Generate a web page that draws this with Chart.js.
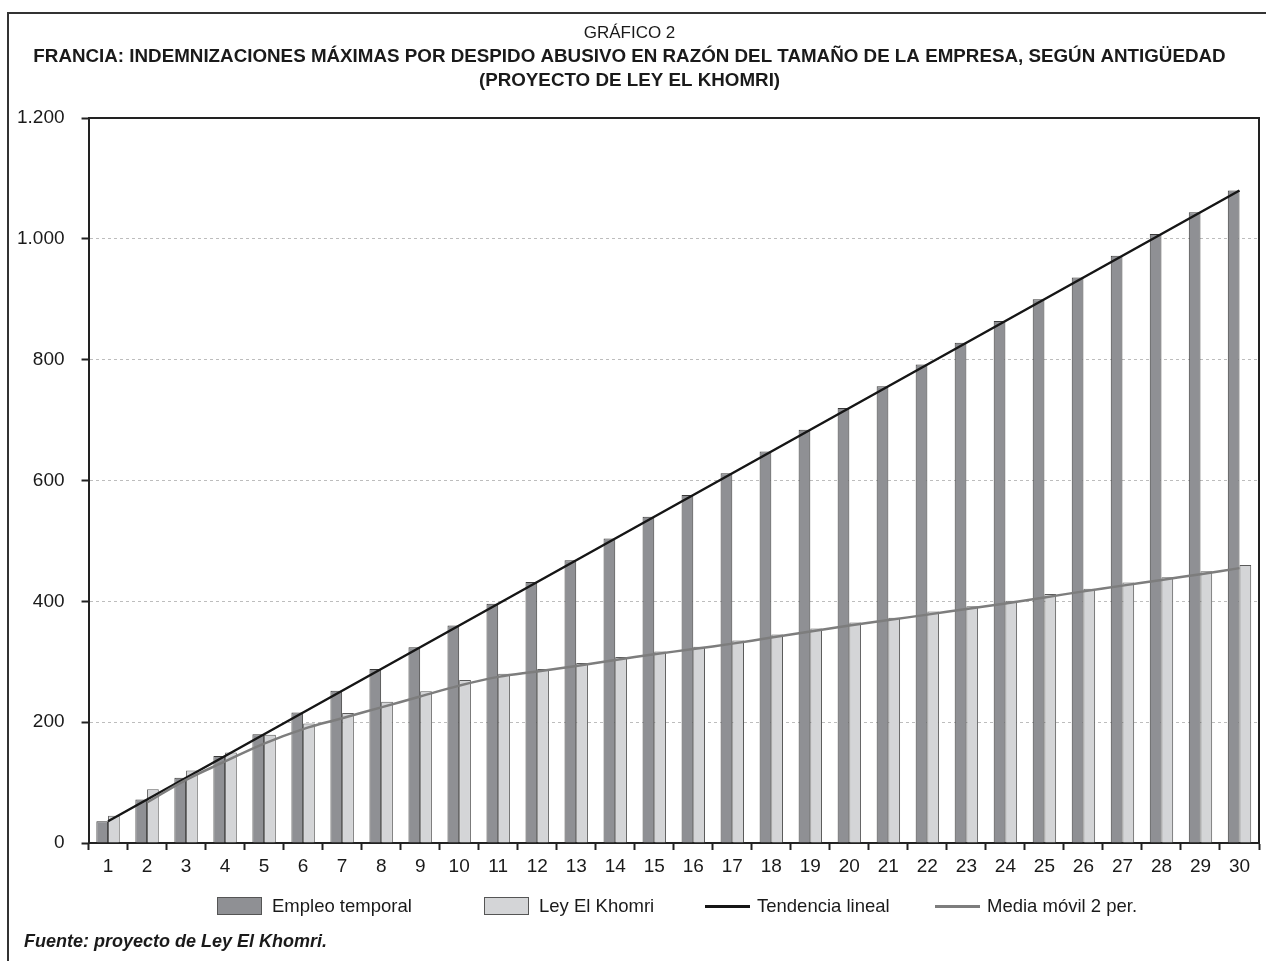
<!DOCTYPE html>
<html lang="es">
<head>
<meta charset="utf-8">
<title>Gráfico 2 - Francia: indemnizaciones máximas por despido abusivo</title>
<script src="https://cdn.jsdelivr.net/npm/chart.js@4.4.1/dist/chart.umd.min.js"></script>
<style>
  html, body { margin: 0; padding: 0; background: #fff; }
  body {
    position: relative;
    width: 1266px;
    height: 961px;
    overflow: hidden;
    font-family: 'Liberation Sans', Arial, Helvetica, sans-serif;
    color: #1a1a1a;
  }
  #chart { position: absolute; left: 0; top: 0; }
  #frame {
    position: absolute;
    left: 7px;
    top: 12px;
    width: 1270px;
    height: 960px;
    border-top: 2px solid #333;
    border-left: 2px solid #333;
    pointer-events: none;
  }
  #legend { position: absolute; left: 0; top: 897px; width: 100%; height: 18px; }
  .legend-item {
    position: absolute;
    top: 0;
    height: 18px;
    display: flex;
    align-items: center;
    font-size: 18.5px;
    white-space: nowrap;
  }
  .legend-box { width: 43px; height: 16px; border: 1px solid #555; margin-right: 10px; }
  .legend-line { width: 45px; height: 0; border-top: 3px solid; margin-right: 7px; }
  #source {
    position: absolute;
    left: 24px;
    top: 931px;
    font-size: 18px;
    font-weight: bold;
    font-style: italic;
  }
</style>
</head>
<body>
<canvas id="chart" width="1266" height="961"></canvas>
<div id="frame"></div>
<div id="legend"></div>
<div id="source">Fuente: proyecto de Ley El Khomri.</div>

<script>
const TITLE = 'GRÁFICO 2';
const SUBTITLE = [
  'FRANCIA: INDEMNIZACIONES MÁXIMAS POR DESPIDO ABUSIVO EN RAZÓN DEL TAMAÑO DE LA EMPRESA, SEGÚN ANTIGÜEDAD',
  '(PROYECTO DE LEY EL KHOMRI)',
];

// antigüedad (años)
const categories = ['1', '2', '3', '4', '5', '6', '7', '8', '9', '10',
  '11', '12', '13', '14', '15', '16', '17', '18', '19', '20',
  '21', '22', '23', '24', '25', '26', '27', '28', '29', '30'];

const empleoTemporal = [36, 72, 108, 144, 180, 216, 252, 288, 324, 360,
  396, 432, 468, 504, 540, 576, 612, 648, 684, 720,
  756, 792, 828, 864, 900, 936, 972, 1008, 1044, 1080];

const leyElKhomri = [45, 89, 120, 150, 179, 198, 215, 234, 251, 270,
  280, 288, 298, 308, 317, 325, 335, 345, 355, 365,
  373, 383, 392, 401, 412, 421, 431, 440, 450, 460];

const tendenciaLineal = [36, 72, 108, 144, 180, 216, 252, 288, 324, 360,
  396, 432, 468, 504, 540, 576, 612, 648, 684, 720,
  756, 792, 828, 864, 900, 936, 972, 1008, 1044, 1080];

// media móvil de 2 periodos sobre Ley El Khomri (no hay valor para el año 1)
const mediaMovil = [null, 67, 104.5, 135, 164.5, 188.5, 206.5, 224.5, 242.5, 260.5,
  275, 284, 293, 303, 312.5, 321, 330, 340, 350, 360,
  369, 378, 387.5, 396.5, 406.5, 416.5, 426, 435.5, 445, 455];

const yTicks = [0, 200, 400, 600, 800, 1000, 1200];

const seriesLabels = ['Empleo temporal', 'Ley El Khomri', 'Tendencia lineal', 'Media móvil 2 per.'];

const DARK_BAR = '#8f9094';
const LIGHT_BAR = '#d4d5d7';
const TREND_COLOR = '#161616';
const MOVING_COLOR = '#7d7d7d';
const AXIS_COLOR = '#222';
const TEXT_COLOR = '#1a1a1a';

const legendLefts = [217, 484, 705, 935];

const chartCanvas = document.querySelector('#chart');
const legendEl = document.querySelector('#legend');

Chart.defaults.font.family = "'Liberation Sans', Arial, Helvetica, sans-serif";
Chart.defaults.color = TEXT_COLOR;

function formatThousands(value) {
  return String(value).replace(/\B(?=(\d{3})+(?!\d))/g, '.');
}

// marco superior y derecho del área de trazado
const plotFramePlugin = {
  id: 'plotFrame',
  afterDraw(chart) {
    const { ctx, chartArea } = chart;
    ctx.save();
    ctx.strokeStyle = AXIS_COLOR;
    ctx.lineWidth = 2;
    ctx.beginPath();
    ctx.moveTo(chartArea.left, chartArea.top);
    ctx.lineTo(chartArea.right, chartArea.top);
    ctx.lineTo(chartArea.right, chartArea.bottom);
    ctx.stroke();
    ctx.restore();
  },
};

function buildDatasets() {
  return [
    {
      type: 'bar',
      label: seriesLabels[0],
      data: empleoTemporal,
      backgroundColor: DARK_BAR,
      borderColor: '#3a3a3a',
      borderWidth: 1,
      categoryPercentage: 0.6,
      barPercentage: 1,
      order: 2,
    },
    {
      type: 'bar',
      label: seriesLabels[1],
      data: leyElKhomri,
      backgroundColor: LIGHT_BAR,
      borderColor: '#5a5a5a',
      borderWidth: 1,
      categoryPercentage: 0.6,
      barPercentage: 1,
      order: 2,
    },
    {
      type: 'line',
      label: seriesLabels[2],
      data: tendenciaLineal,
      borderColor: TREND_COLOR,
      borderWidth: 2.5,
      pointRadius: 0,
      tension: 0,
      order: 1,
    },
    {
      type: 'line',
      label: seriesLabels[3],
      data: mediaMovil,
      borderColor: MOVING_COLOR,
      borderWidth: 2.5,
      pointRadius: 0,
      tension: 0.4,
      order: 0,
    },
  ];
}

function renderLegend(chart) {
  legendEl.innerHTML = chart.data.datasets
    .map((dataset, index) => {
      const marker = dataset.type === 'bar'
        ? `<span class="legend-box" style="background:${dataset.backgroundColor}"></span>`
        : `<span class="legend-line" style="border-color:${dataset.borderColor}"></span>`;
      return `<div class="legend-item" style="left:${legendLefts[index]}px">${marker}<span>${dataset.label}</span></div>`;
    })
    .join('');
}

function createChart() {
  return new Chart(chartCanvas, {
    type: 'bar',
    data: {
      labels: categories,
      datasets: buildDatasets(),
    },
    options: {
      responsive: false,
      animation: false,
      devicePixelRatio: 1,
      layout: {
        padding: { left: 0, right: 7, top: 0, bottom: 77 },
      },
      plugins: {
        legend: { display: false },
        tooltip: { enabled: false },
        title: {
          display: true,
          text: TITLE,
          color: TEXT_COLOR,
          font: { size: 17, weight: 'normal' },
          padding: { top: 23, bottom: 2 },
        },
        subtitle: {
          display: true,
          text: SUBTITLE,
          color: TEXT_COLOR,
          font: { size: 18.8, weight: 'bold', lineHeight: 1.24 },
          padding: { top: 0, bottom: 26 },
        },
      },
      scales: {
        x: {
          grid: {
            offset: true,
            drawOnChartArea: false,
            tickLength: 7,
            tickColor: AXIS_COLOR,
            tickWidth: 2,
          },
          border: { color: AXIS_COLOR, width: 2 },
          ticks: {
            color: TEXT_COLOR,
            font: { size: 19 },
            padding: 5.6,
            autoSkip: false,
            maxRotation: 0,
          },
        },
        y: {
          min: yTicks[0],
          max: yTicks[yTicks.length - 1],
          afterBuildTicks(scale) {
            scale.ticks = yTicks.map((value) => ({ value }));
          },
          grid: {
            color(context) {
              const value = context.tick ? context.tick.value : null;
              if (value === yTicks[0] || value === yTicks[yTicks.length - 1]) {
                return 'rgba(0,0,0,0)';
              }
              return '#bdbdbd';
            },
            lineWidth: 1,
            tickLength: 7,
            tickColor: AXIS_COLOR,
            tickWidth: 2,
            tickBorderDash: [],
          },
          border: { color: AXIS_COLOR, width: 2, dash: [3, 3] },
          ticks: {
            color: TEXT_COLOR,
            font: { size: 19 },
            padding: 17,
            callback: (value) => formatThousands(value),
          },
        },
      },
    },
    plugins: [plotFramePlugin],
  });
}

function init() {
  const chart = createChart();
  renderLegend(chart);
}

init();
</script>
</body>
</html>
